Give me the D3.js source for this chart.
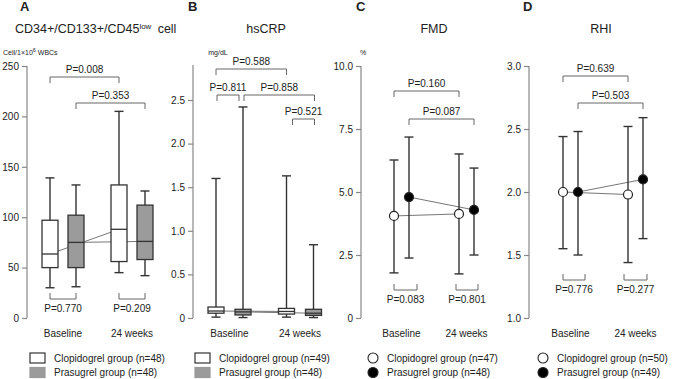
<!DOCTYPE html>
<html>
<head>
<meta charset="utf-8">
<script src="https://cdn.jsdelivr.net/npm/d3@7"></script>
<style>
  body { margin: 0; background: #fff; }
  svg { font-family: Arial, "Liberation Sans", sans-serif; }
</style>
</head>
<body>
<svg id="chart" width="676" height="379"></svg>
<script>
const times = ['Baseline', '24 weeks'];
const groupNames = ['Clopidogrel group', 'Prasugrel group'];

// box stats per time point: [min, q1, median, q3, max]
const epcClopidogrel = [[30, 50, 63.5, 97, 139], [45, 56, 88, 132, 205]];
const epcPrasugrel   = [[31, 50, 75, 102, 132], [42, 58, 76, 112, 126]];
const crpClopidogrel = [[0.01, 0.055, 0.08, 0.126, 1.60], [0.01, 0.045, 0.075, 0.11, 1.63]];
const crpPrasugrel   = [[0.005, 0.035, 0.07, 0.10, 2.42], [0.005, 0.03, 0.055, 0.10, 0.84]];

// mean with error bar per time point: [low, mean, high]
const fmdClopidogrel = [[1.79, 4.05, 6.27], [1.75, 4.13, 6.51]];
const fmdPrasugrel   = [[2.38, 4.80, 7.18], [2.50, 4.29, 5.95]];
const rhiClopidogrel = [[1.55, 2.00, 2.44], [1.44, 1.98, 2.52]];
const rhiPrasugrel   = [[1.50, 2.00, 2.48], [1.63, 2.10, 2.59]];

const nEpc = [48, 48], nCrp = [49, 48], nFmd = [47, 48], nRhi = [50, 49];

const epcTicks = [0, 50, 100, 150, 200, 250];
const crpTicks = [0, 0.5, 1.0, 1.5, 2.0, 2.5];
const fmdTicks = [0, 2.5, 5.0, 7.5, 10.0];
const rhiTicks = [1.0, 1.5, 2.0, 2.5, 3.0];

// p values: [label, [group, time], [group, time]]
const pEpc = [['0.008', [0, 0], [0, 1]], ['0.353', [1, 0], [1, 1]], ['0.770', [0, 0], [1, 0]], ['0.209', [0, 1], [1, 1]]];
const pCrp = [['0.588', [0, 0], [0, 1]], ['0.811', [0, 0], [1, 0]], ['0.858', [1, 0], [1, 1]], ['0.521', [0, 1], [1, 1]]];
const pFmd = [['0.160', [0, 0], [0, 1]], ['0.087', [1, 0], [1, 1]], ['0.083', [0, 0], [1, 0]], ['0.801', [0, 1], [1, 1]]];
const pRhi = [['0.639', [0, 0], [0, 1]], ['0.503', [1, 0], [1, 1]], ['0.776', [0, 0], [1, 0]], ['0.277', [0, 1], [1, 1]]];

const svg = d3.select('#chart');
const ink = '#222';
const fillColor = ['#fff', '#9b9b9b'];

const panels = [
  { letter: 'A', kind: 'box', series: [epcClopidogrel, epcPrasugrel], n: nEpc, ticks: epcTicks, fmt: d3.format('d'),
    domain: [0, 250], axisX: 27, axisTop: 66, centers: [63, 132], offset: 13, legendX: 30,
    title: 'CD34+/CD133+/CD45', titleX: 15, letterX: 20,
    p: pEpc, brackets: [{ y: 77, dir: 1 }, { y: 103, dir: 1 }, { y: 299, dir: -1 }, { y: 299, dir: -1 }] },
  { letter: 'B', kind: 'box', series: [crpClopidogrel, crpPrasugrel], n: nCrp, ticks: crpTicks, fmt: d => d === 0 ? '0' : d3.format('.1f')(d),
    domain: [0, 2.5], axisX: 193, axisTop: 65, centers: [229.5, 300], offset: 13.5, legendX: 195,
    title: 'hsCRP', titleX: 266, letterX: 188, unit: 'mg/dL', unitX: 218,
    p: pCrp, brackets: [{ y: 69, dir: 1 }, { y: 95, dir: 1, inset: [1, -4] }, { y: 95, dir: 1, inset: [1, 1] }, { y: 119, dir: 1, inset: [6, 1] }] },
  { letter: 'C', kind: 'dot', series: [fmdClopidogrel, fmdPrasugrel], n: nFmd, ticks: fmdTicks, fmt: d => d === 0 ? '0' : d3.format('.1f')(d),
    domain: [0, 10], axisX: 361, axisTop: 66, centers: [401.5, 466.5], offset: 7.5, legendX: 373,
    title: 'FMD', titleX: 434, letterX: 356, unit: '%', unitX: 363,
    p: pFmd, brackets: [{ y: 91, dir: 1 }, { y: 119, dir: 1 }, { y: 290, dir: -1, inset: [0, 8] }, { y: 290, dir: -1, inset: [-3, 4] }] },
  { letter: 'D', kind: 'dot', series: [rhiClopidogrel, rhiPrasugrel], n: nRhi, ticks: rhiTicks, fmt: d3.format('.1f'),
    domain: [1, 3], axisX: 529, axisTop: 66, centers: [570.5, 635.5], offset: 7.5, legendX: 543,
    title: 'RHI', titleX: 601, letterX: 523,
    p: pRhi, brackets: [{ y: 76, dir: 1 }, { y: 103, dir: 1 }, { y: 280, dir: -1, inset: [0, 7] }, { y: 280, dir: -1, inset: [-4, 4] }] }
];

panels.forEach(panel => {
  const g = svg.append('g');
  const y = d3.scaleLinear().domain(panel.domain).range([318, 66]);
  if (panel.letter === 'B') y.range([318, 100]);
  const t = d3.scaleLinear().domain([0, 1]).range(panel.centers);
  const xOf = (group, time) => t(time) + (group === 0 ? -panel.offset : panel.offset);

  // letter + title
  g.append('text').attr('x', panel.letterX).attr('y', 11)
    .attr('font-size', 13).attr('font-weight', 'bold').attr('fill', ink).text(panel.letter);
  const title = g.append('text').attr('x', panel.titleX).attr('y', 33)
    .attr('font-size', 12.5).attr('fill', ink)
    .attr('text-anchor', panel.letter === 'A' ? 'start' : 'middle')
    .text(panel.title);
  if (panel.letter === 'A') {
    title.append('tspan').attr('font-size', 8).attr('dy', -4.5).text('low');
    title.append('tspan').attr('dy', 4.5).text('\u2002cell');
    const u = g.append('text').attr('x', 3).attr('y', 55).attr('font-size', 7).attr('fill', ink).text('Cell/1\u00d710');
    u.append('tspan').attr('font-size', 5.5).attr('dy', -3).text('6');
    u.append('tspan').attr('dy', 3).text(' WBCs');
  } else if (panel.unit) {
    g.append('text').attr('x', panel.unitX).attr('y', 55).attr('font-size', 7)
      .attr('text-anchor', 'middle').attr('fill', ink).text(panel.unit);
  }

  // y axis
  const axis = g.append('g').attr('transform', `translate(${panel.axisX},0)`)
    .call(d3.axisLeft(y).tickValues(panel.ticks).tickFormat(panel.fmt).tickSize(5).tickPadding(3).tickSizeOuter(0));
  axis.select('.domain').remove();
  axis.append('line').attr('x1', 0).attr('x2', 0).attr('y1', panel.axisTop).attr('y2', y(panel.domain[0]))
    .attr('stroke', '#888').attr('stroke-width', 1.2);
  axis.selectAll('.tick line').attr('stroke', '#888').attr('stroke-width', 1.2);
  axis.selectAll('.tick text').attr('font-size', 10).attr('fill', ink).attr('font-family', 'Arial, "Liberation Sans", sans-serif');

  // x labels
  g.selectAll('.timeLabel').data(times).enter().append('text')
    .attr('x', (d, i) => t(i)).attr('y', 337).attr('text-anchor', 'middle')
    .attr('font-size', 10).attr('fill', ink).text(d => d);

  const mid = panel.kind === 'box' ? 2 : 1;

  // connecting lines
  panel.series.forEach((s, gi) => {
    g.append('line')
      .attr('x1', xOf(gi, 0)).attr('y1', y(s[0][mid]))
      .attr('x2', xOf(gi, 1)).attr('y2', y(s[1][mid]))
      .attr('stroke', '#666').attr('stroke-width', 0.9);
  });

  panel.series.forEach((s, gi) => {
    s.forEach((d, ti) => {
      const cx = xOf(gi, ti);
      const lo = d[0], hi = d[d.length - 1];
      g.append('line').attr('x1', cx).attr('x2', cx).attr('y1', y(lo)).attr('y2', y(hi))
        .attr('stroke', '#333').attr('stroke-width', 1.4);
      [lo, hi].forEach(v => {
        g.append('line').attr('x1', cx - 4.5).attr('x2', cx + 4.5).attr('y1', y(v)).attr('y2', y(v))
          .attr('stroke', '#333').attr('stroke-width', 1.4);
      });
      if (panel.kind === 'box') {
        const w = 16;
        g.append('rect').attr('x', cx - w / 2).attr('width', w)
          .attr('y', y(d[3])).attr('height', y(d[1]) - y(d[3]))
          .attr('fill', fillColor[gi]).attr('stroke', '#333').attr('stroke-width', 1.3);
        g.append('line').attr('x1', cx - w / 2).attr('x2', cx + w / 2).attr('y1', y(d[2])).attr('y2', y(d[2]))
          .attr('stroke', '#333').attr('stroke-width', 1.3);
      } else {
        g.append('circle').attr('cx', cx).attr('cy', y(d[1])).attr('r', 4.5)
          .attr('fill', gi === 0 ? '#fff' : '#000').attr('stroke', '#222').attr('stroke-width', 1.2);
      }
    });
  });

  // p value brackets
  panel.p.forEach((p, i) => {
    const b = panel.brackets[i];
    const inset = b.inset || [0, 0];
    const x1 = xOf(p[1][0], p[1][1]) + inset[0];
    const x2 = xOf(p[2][0], p[2][1]) + inset[1];
    const leg = 6 * b.dir;
    g.append('path')
      .attr('d', `M${x1},${b.y + leg}V${b.y}H${x2}V${b.y + leg}`)
      .attr('fill', 'none').attr('stroke', '#666').attr('stroke-width', 1);
    g.append('text').attr('x', (x1 + x2) / 2).attr('y', b.dir > 0 ? b.y - 4 : b.y + 13)
      .attr('text-anchor', 'middle').attr('font-size', 10).attr('fill', ink).text('P=' + p[0]);
  });

  // legend
  groupNames.forEach((name, gi) => {
    const ly = 358 + gi * 14.5;
    if (panel.kind === 'box') {
      g.append('rect').attr('x', panel.legendX).attr('y', ly - 5).attr('width', 15).attr('height', 10)
        .attr('fill', fillColor[gi]).attr('stroke', gi === 0 ? '#333' : '#999').attr('stroke-width', 1.2);
    } else {
      g.append('circle').attr('cx', panel.legendX).attr('cy', ly).attr('r', 5)
        .attr('fill', gi === 0 ? '#fff' : '#000').attr('stroke', '#222').attr('stroke-width', 1.1);
    }
    g.append('text').attr('x', panel.legendX + (panel.kind === 'box' ? 24 : 14)).attr('y', ly + 3.5)
      .attr('font-size', 10).attr('fill', ink).text(`${name} (n=${panel.n[gi]})`);
  });
});
</script>
</body>
</html>
